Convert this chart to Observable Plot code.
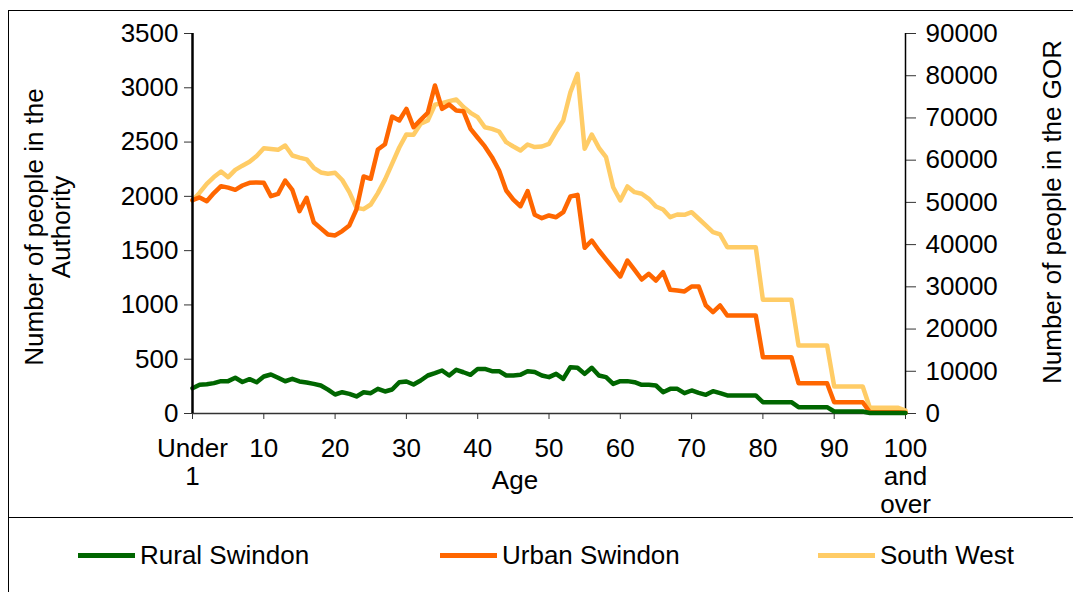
<!DOCTYPE html>
<html>
<head>
<meta charset="utf-8">
<script src="https://cdn.jsdelivr.net/npm/d3@7"></script>
<script src="https://cdn.jsdelivr.net/npm/@observablehq/plot@0.6"></script>
<style>
  body { margin: 0; background: #fff; font-family: "Liberation Sans", Arial, sans-serif; }
  #wrap { position: relative; width: 1073px; height: 592px; overflow: hidden; background: #fff; }
  #frame { position: absolute; left: 8px; top: 10px; width: 1100px; height: 640px; border: 1px solid #000; }
  #sep { position: absolute; left: 8px; top: 517px; width: 1100px; border-top: 1px solid #000; }
  #chart { position: absolute; left: 0; top: 0; }
  .t { position: absolute; font-size: 26px; color: #000; white-space: nowrap; line-height: 27px; }
  .rot { transform: translate(-50%, -50%) rotate(-90deg); text-align: center; }
  .sw { position: absolute; height: 5px; width: 57px; }
</style>
</head>
<body>
<div id="wrap">
  <div id="frame"></div>
  <div id="sep"></div>
  <div id="chart"></div>
  <div class="t rot" style="left:48px; top:227px;">Number of people in the<br>Authority</div>
  <div class="t rot" style="left:1052px; top:212px;">Number of people in the GOR</div>
  <div class="t" style="left:515px; top:480px; transform: translate(-50%, -50%);">Age</div>
  <div id="legend"></div>
</div>
<script>
// Ages 0 ("Under 1") .. 100 ("100 and over")
const ages = d3.range(0, 101);

const ruralSwindon = [
  233, 264, 270, 280, 298, 298, 329, 290, 316, 288,
  341, 359, 329, 297, 319, 295, 285, 273, 258, 220,
  175, 196, 181, 157, 196, 187, 227, 203, 221, 288,
  295, 267, 304, 350, 371, 396, 350, 402, 380, 356,
  411, 411, 390, 390, 350, 350, 356, 390, 382, 350,
  335, 365, 319, 427, 421, 365, 421, 350, 335, 273,
  298, 298, 288, 264, 264, 258, 196, 227, 227, 187,
  212, 190, 172, 206, 187, 166, 166, 166, 166, 166,
  104, 104, 104, 104, 104, 58, 58, 58, 58, 58,
  18, 18, 18, 18, 18, 5, 5, 5, 5, 5,
  5
];

const urbanSwindon = [
  1965, 1990, 1956, 2030, 2094, 2080, 2060, 2100, 2125, 2128,
  2125, 2002, 2023, 2146, 2060, 1864, 1987, 1762, 1705, 1649,
  1640, 1680, 1732, 1880, 2183, 2162, 2432, 2480, 2735, 2699,
  2806, 2637, 2705, 2770, 3021, 2806, 2846, 2791, 2784, 2622,
  2540, 2460, 2361, 2238, 2054, 1970, 1909, 2048, 1830, 1799,
  1824, 1808, 1854, 1999, 2014, 1526, 1593, 1501, 1420, 1340,
  1262, 1409, 1323, 1234, 1287, 1225, 1301, 1139, 1133, 1124,
  1170, 1170, 995, 933, 995, 903, 903, 903, 903, 903,
  519, 519, 519, 519, 519, 279, 279, 279, 279, 279,
  104, 104, 104, 104, 104, 12, 12, 12, 12, 12,
  8
];

const southWest = [
  50450, 52300, 54400, 56000, 57320, 55970, 57700, 58700, 59600, 61000,
  62840, 62650, 62450, 63480, 61100, 60600, 60200, 58200, 57100, 56800,
  57010, 55300, 52420, 48700, 48400, 49500, 52200, 55400, 59200, 63000,
  66100, 66010, 68620, 69400, 73110, 73500, 73970, 74370, 72600, 71220,
  70180, 67810, 67400, 66790, 64260, 63240, 62290, 63710, 63100, 63240,
  63880, 66790, 69400, 76100, 80460, 62690, 66080, 62930, 60710, 53600,
  50450, 53770, 52420, 52040, 50850, 49030, 48320, 46500, 47130, 47060,
  47680, 46120, 44530, 42940, 42400, 39390, 39390, 39390, 39390, 39390,
  26930, 26930, 26930, 26930, 26930, 16110, 16110, 16110, 16110, 16110,
  6400, 6400, 6400, 6400, 6400, 1350, 1350, 1350, 1350, 1350,
  710
];

const seriesNames = ["Rural Swindon", "Urban Swindon", "South West"];
const seriesColors = ["#006600", "#FF6600", "#FFCC66"];

const leftTicks = [0, 500, 1000, 1500, 2000, 2500, 3000, 3500];
const rightTicks = [0, 10000, 20000, 30000, 40000, 50000, 60000, 70000, 80000, 90000];
const xTicks = [0, 10, 20, 30, 40, 50, 60, 70, 80, 90, 100];
const xTickLabels = ["Under\n1", "10", "20", "30", "40", "50", "60", "70", "80", "90", "100\nand\nover"];

const leftMax = 3500, rightMax = 90000;
const ratio = leftMax / rightMax;

const rural = ages.map((a, i) => ({age: a, v: ruralSwindon[i]}));
const urban = ages.map((a, i) => ({age: a, v: urbanSwindon[i]}));
const sw = ages.map((a, i) => ({age: a, v: southWest[i] * ratio}));

const font = "Liberation Sans, Arial, sans-serif";

const chart = Plot.plot({
  width: 1073,
  height: 540,
  marginLeft: 192,
  marginRight: 168,
  marginTop: 33,
  marginBottom: 127,
  style: {background: "transparent", fontFamily: font, fontSize: "26px", color: "#000"},
  x: {domain: [0, 100], axis: null},
  y: {domain: [0, leftMax], axis: null},
  marks: [
    Plot.axisY({ticks: leftTicks, tickSize: 8, tickPadding: 6, tickFormat: d => String(d), fontSize: 26, label: null, stroke: "#333"}),
    Plot.axisY({anchor: "right", ticks: rightTicks.map(t => t * ratio), tickSize: 10, tickPadding: 10,
      tickFormat: d => String(Math.round(d / ratio)), fontSize: 26, label: null, stroke: "#333"}),
    Plot.axisX({ticks: xTicks, tickSize: 6, tickPadding: 18, tickFormat: (d) => xTickLabels[xTicks.indexOf(d)],
      fontSize: 26, lineHeight: 1.07, label: null, stroke: "#333"}),
    Plot.ruleY([0], {stroke: "#333", strokeWidth: 1.5}),
    Plot.ruleX([100], {stroke: "#000", strokeWidth: 1.5}),
    Plot.lineY(sw, {x: "age", y: "v", stroke: seriesColors[2], strokeWidth: 4.5}),
    Plot.lineY(urban, {x: "age", y: "v", stroke: seriesColors[1], strokeWidth: 4.5}),
    Plot.lineY(rural, {x: "age", y: "v", stroke: seriesColors[0], strokeWidth: 4.5}),
    Plot.ruleX([0], {stroke: "#000", strokeWidth: 2.5})
  ]
});
document.getElementById("chart").appendChild(chart);

const legendPos = [[78, 140], [440, 502], [818, 880]];
const legend = document.getElementById("legend");
seriesNames.forEach((name, i) => {
  const s = document.createElement("div");
  s.className = "sw";
  s.style.left = legendPos[i][0] + "px";
  s.style.top = "553px";
  s.style.background = seriesColors[i];
  legend.appendChild(s);
  const t = document.createElement("div");
  t.className = "t";
  t.style.left = legendPos[i][1] + "px";
  t.style.top = "555px";
  t.style.transform = "translateY(-50%)";
  t.textContent = name;
  legend.appendChild(t);
});
</script>
</body>
</html>
